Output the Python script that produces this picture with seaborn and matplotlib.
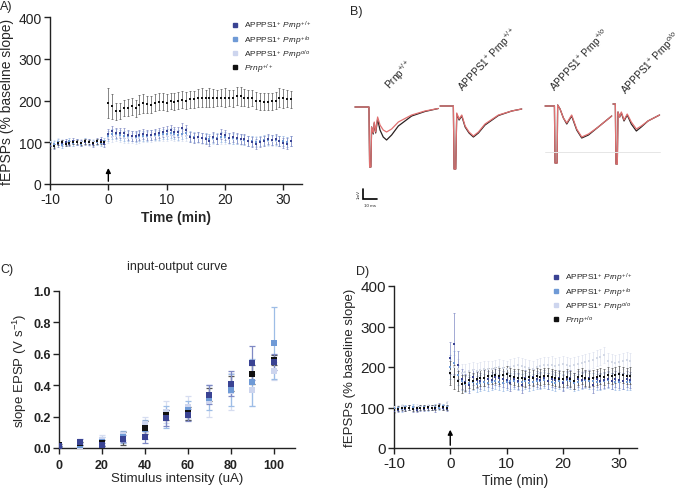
import numpy as np
import pandas as pd
import matplotlib
matplotlib.use("Agg")
import matplotlib.pyplot as plt
import seaborn as sns
from matplotlib.lines import Line2D

sns.set_style("ticks")
plt.rcParams['font.family'] = ['Liberation Sans', 'DejaVu Sans']
plt.rcParams['mathtext.fontset'] = 'custom'
plt.rcParams['mathtext.rm'] = 'Liberation Sans'
plt.rcParams['mathtext.it'] = 'Liberation Sans:italic'
plt.rcParams['mathtext.bf'] = 'Liberation Sans:bold'
plt.rcParams['axes.unicode_minus'] = False

# ---------------- data ----------------
C_NAVY, C_MED, C_LIGHT, C_BLACK = "#3a4393", "#6f9ad6", "#cdd5ee", "#111111"
E_NAVY, E_MED, E_LIGHT, E_BLACK = "#7f89c4", "#9dbde6", "#d6ddf0", "#555555"

# Panel A (time in min, 40 s sampling)
a_time_base = [-10 + i * 2 / 3 for i in range(15)]
a_time_post = [i * 2 / 3 for i in range(48)]
a_navy_base = [92, 90, 96, 98, 101, 97, 103, 100, 99, 101, 100, 96, 104, 105, 96]
a_navy_post = [120, 126, 122, 121, 121, 118, 116, 114, 117, 119, 118, 118, 120, 121, 124, 127,
               129, 124, 125, 133, 130, 112, 110, 113, 111, 108, 103, 112, 107, 120, 117, 110,
               112, 110, 108, 107, 104, 100, 95, 100, 104, 108, 106, 108, 104, 99, 97, 103]
a_med_base = [98, 96, 100, 94, 97, 102, 99, 101, 97, 103, 100, 99, 101, 98, 102]
a_med_post = [116, 120, 119, 118, 116, 115, 114, 113, 114, 116, 115, 117, 118, 118, 119, 120,
              122, 120, 118, 120, 121, 114, 112, 112, 110, 110, 108, 110, 109, 112, 112, 110,
              109, 108, 107, 106, 104, 103, 101, 103, 105, 106, 105, 106, 104, 102, 101, 103]
a_light_base = [100, 99, 102, 101, 100, 99, 98, 101, 100, 102, 99, 101, 100, 101, 99]
a_light_post = [110, 113, 114, 112, 111, 110, 110, 109, 111, 112, 112, 113, 114, 114, 115, 116,
                117, 116, 115, 116, 116, 112, 110, 110, 109, 109, 108, 108, 108, 109, 109, 108,
                107, 107, 106, 105, 104, 103, 102, 102, 103, 104, 103, 104, 103, 102, 101, 102]
a_black_base = [95, 92, 98, 100, 96, 99, 101, 100, 98, 102, 100, 99, 102, 101, 100]
a_black_post = [195, 186, 174, 175, 182, 183, 186, 181, 190, 193, 191, 190, 195, 197, 197, 195,
                199, 197, 200, 202, 200, 203, 203, 206, 207, 205, 207, 206, 206, 207, 207, 206,
                205, 211, 210, 207, 205, 206, 200, 198, 197, 197, 198, 200, 207, 205, 204, 203]
a_sem_blue_base = [7] * 15
a_sem_blue_post = [12] * 48
a_sem_black_base = [5] * 15
a_sem_black_post = [36, 30, 20, 20, 20, 20, 20, 20, 22, 22, 20, 20, 20, 20, 20, 20,
                    20, 20, 20, 20, 20, 20, 20, 22, 22, 20, 22, 22, 20, 20, 22, 20,
                    20, 22, 22, 20, 20, 20, 20, 20, 20, 20, 20, 20, 22, 22, 20, 20]

# Panel D
d_time_base = [-10 + i * 2 / 3 for i in range(15)]
d_time_post = [i * 2 / 3 for i in range(49)]
d_black_base = [94, 97, 99, 98, 100, 97, 98, 99, 100, 101, 100, 99, 103, 101, 100]
d_black_post = [185, 176, 165, 158, 160, 167, 165, 170, 172, 174, 177, 178, 180, 178, 181, 182,
                178, 176, 174, 172, 170, 176, 173, 178, 176, 178, 177, 175, 172, 171, 170, 176,
                170, 165, 176, 178, 173, 170, 172, 175, 178, 176, 180, 177, 180, 182, 181, 178, 179]
d_navy_base = [92, 95, 98, 97, 99, 96, 94, 98, 97, 99, 100, 96, 104, 99, 97]
d_navy_post = [222, 258, 205, 170, 162, 155, 175, 168, 165, 172, 170, 168, 175, 172, 170, 168,
               160, 170, 165, 155, 172, 168, 175, 170, 168, 172, 165, 170, 168, 172, 160, 170,
               172, 165, 170, 168, 170, 172, 155, 170, 165, 168, 170, 165, 170, 168, 165, 170, 168]
d_med_base = [100, 98, 96, 101, 99, 102, 97, 100, 101, 98, 99, 102, 100, 103, 101]
d_med_post = [200, 210, 180, 165, 158, 160, 162, 158, 160, 162, 160, 163, 165, 162, 160, 164,
              166, 165, 163, 162, 165, 160, 163, 165, 166, 168, 165, 163, 160, 165, 162, 168,
              165, 160, 163, 165, 168, 166, 165, 163, 162, 165, 168, 165, 163, 162, 165, 163, 162]
d_light_base = [102, 100, 103, 101, 99, 100, 102, 101, 100, 103, 101, 102, 104, 103, 110]
d_light_post = [190, 200, 195, 185, 188, 190, 192, 190, 193, 195, 196, 195, 198, 200, 198, 196,
                200, 203, 205, 202, 200, 198, 196, 200, 203, 205, 204, 206, 203, 205, 207, 205,
                203, 205, 208, 210, 212, 215, 218, 222, 225, 230, 215, 212, 210, 212, 215, 218, 215]
d_sem_base = [6] * 15
d_sem_navy_post = [40, 75, 35, 25] + [20] * 45
d_sem_post = [30, 30, 25, 22] + [20] * 45

# Panel C (input-output)
c_stim = [0, 10, 20, 30, 40, 50, 60, 70, 80, 90, 100]
c_navy = [0.01, 0.04, 0.02, 0.06, 0.07, 0.19, 0.21, 0.34, 0.41, 0.54, 0.55]
c_med = [0.01, 0.02, 0.04, 0.07, 0.12, 0.20, 0.24, 0.32, 0.37, 0.42, 0.67]
c_light = [0.01, 0.01, 0.05, 0.08, 0.15, 0.23, 0.26, 0.30, 0.36, 0.37, 0.49]
c_black = [0.02, 0.03, 0.03, 0.06, 0.13, 0.21, 0.22, 0.34, 0.41, 0.47, 0.56]
c_navy_sem = [0.005, 0.02, 0.01, 0.02, 0.04, 0.05, 0.04, 0.06, 0.08, 0.11, 0.05]
c_med_sem = [0.005, 0.02, 0.03, 0.04, 0.06, 0.07, 0.06, 0.08, 0.10, 0.15, 0.23]
c_light_sem = [0.005, 0.02, 0.03, 0.03, 0.05, 0.07, 0.07, 0.10, 0.12, 0.10, 0.06]
c_black_sem = [0.005, 0.01, 0.02, 0.04, 0.04, 0.03, 0.04, 0.04, 0.05, 0.06, 0.03]

# Panel B traces (ms, mV)
tr1_t = [0, 10, 10.5, 11.4, 11.9, 13.1, 13.8, 14.8, 16.2, 17.9, 20.2, 22.6, 26.2, 31, 40.5, 50, 59.5]
tr1_red = [0, 0, -6, -6, -2.0, -2.6, -1.5, -2.5, -1.0, -1.8, -2.3, -2.5, -2.2, -1.5, -0.8, -0.4, -0.15]
tr1_black = [0, 0, -6, -6, -2.0, -2.7, -1.6, -2.6, -1.2, -2.3, -3.0, -3.3, -2.8, -1.9, -0.9, -0.45, -0.15]
tr2_t = [0, 9.5, 10, 11.2, 11.9, 13.6, 15.5, 17.9, 20.7, 23.8, 27.4, 32.1, 41.7, 51.2, 58.3]
tr2_red = [0, 0, -6.3, -6.3, -0.7, -1.3, -0.9, -2.0, -2.6, -3.0, -2.6, -1.8, -0.9, -0.5, -0.3]
tr2_black = [0, 0, -6.3, -6.3, -0.8, -1.4, -1.0, -2.1, -2.7, -3.1, -2.7, -1.9, -0.95, -0.5, -0.3]
tr3_t = [0, 6.7, 7.1, 8.6, 9.0, 10.7, 13.1, 15.5, 19, 22.6, 26.2, 31, 38, 47.6]
tr3_red = [0, 0, -5.7, -5.7, 0.1, -0.3, -1.2, -1.7, -0.9, -2.3, -3.1, -2.8, -2.1, -1.0]
tr3_black = [0, 0, -5.7, -5.7, 0.1, -0.3, -1.2, -1.8, -1.0, -2.4, -3.2, -2.9, -2.1, -1.0]
tr4_t = [0, 1.7, 2.1, 3.1, 3.6, 4.8, 6, 7.9, 10.2, 13.1, 16.7, 20.2, 25, 33.3]
tr4_red = [0, 0, -6, -6, -0.8, -1.3, -0.8, -1.6, -1.0, -1.8, -2.5, -2.2, -1.7, -1.1]
tr4_black = [0, 0, -6, -6, -0.8, -1.3, -0.9, -1.7, -1.1, -2.0, -2.7, -2.3, -1.7, -1.1]

LEG_A = ["APPPS1$^{+}$ $\\mathit{Prnp}^{+/+}$", "APPPS1$^{+}$ $\\mathit{Prnp}^{+/o}$",
         "APPPS1$^{+}$ $\\mathit{Prnp}^{o/o}$", "$\\mathit{Prnp}^{+/+}$"]
LEG_D = ["APPPS1$^{+}$ $\\mathit{Prnp}^{+/+}$", "APPPS1$^{+}$ $\\mathit{Prnp}^{+/o}$",
         "APPPS1$^{+}$ $\\mathit{Prnp}^{o/o}$", "$\\mathit{Prnp}^{+/o}$"]
B_LABELS = ["Prnp$^{+/+}$", "APPPS1$^{+}$ Prnp$^{+/+}$", "APPPS1$^{+}$ Prnp$^{+/o}$", "APPPS1$^{+}$ Prnp$^{o/o}$"]

# ---------------- figure ----------------
W, H = 685, 489
fig = plt.figure(figsize=(W / 100, H / 100), dpi=100)


def rect(l, t, r, b):
    return [l / W, 1 - b / H, (r - l) / W, (b - t) / H]


def style_ax(ax, fs, pad=2):
    sns.despine(ax=ax)
    for s in ['left', 'bottom']:
        ax.spines[s].set_linewidth(1.0)
        ax.spines[s].set_color('#222222')
    ax.tick_params(direction='out', length=4, width=1.0, labelsize=fs, colors='#222222', pad=pad)


def time_panel(ax, series, leg_labels, leg_anchor, fs_tick, fs_lab):
    for (tb, vb, eb, tp, vp, ep, col, ecol) in series:
        t = list(tb) + list(tp)
        v = list(vb) + list(vp)
        e = list(eb) + list(ep)
        ax.errorbar(t, v, yerr=e, fmt='none', ecolor=ecol, elinewidth=0.5, capsize=0.9, capthick=0.5, zorder=2)
        df = pd.DataFrame({"t": t, "v": v})
        sns.scatterplot(data=df, x="t", y="v", ax=ax, color=col, marker='s', s=4, linewidth=0, zorder=3, legend=False)
    ax.set_xlim(-10, 33.2)
    ax.set_ylim(0, 400)
    ax.set_xticks([-10, 0, 10, 20, 30])
    ax.set_yticks([0, 100, 200, 300, 400])
    style_ax(ax, fs_tick)
    ax.set_ylabel("fEPSPs (% baseline slope)", fontsize=fs_lab, labelpad=3)
    handles = [Line2D([], [], marker='s', ls='', color=c, markersize=3) for c in (C_NAVY, C_MED, C_LIGHT, C_BLACK)]
    fig.legend(handles, leg_labels, loc='upper left', bbox_to_anchor=leg_anchor, frameon=False,
               fontsize=6, handlelength=0.6, handletextpad=0.8, labelspacing=0.1, borderpad=0)


# Panel A
axA = fig.add_axes(rect(50, 18, 302, 185))
time_panel(axA, [
    (a_time_base, a_light_base, a_sem_blue_base, a_time_post, a_light_post, a_sem_blue_post, C_LIGHT, E_LIGHT),
    (a_time_base, a_med_base, a_sem_blue_base, a_time_post, a_med_post, a_sem_blue_post, C_MED, E_MED),
    (a_time_base, a_navy_base, a_sem_blue_base, a_time_post, a_navy_post, a_sem_blue_post, C_NAVY, E_NAVY),
    (a_time_base, a_black_base, a_sem_black_base, a_time_post, a_black_post, a_sem_black_post, C_BLACK, E_BLACK),
], LEG_A, (228 / W, 1 - 16 / H), 10, 10)
axA.set_xlabel("Time (min)", fontsize=10, fontweight='bold', labelpad=3)
axA.annotate('', xy=(0, 45), xytext=(0, 0), arrowprops=dict(arrowstyle='-|>', color='black', lw=1, mutation_scale=7))

# Panel D
axD = fig.add_axes(rect(394, 287, 637, 449))
time_panel(axD, [
    (d_time_base, d_light_base, d_sem_base, d_time_post, d_light_post, d_sem_post, "#d3d9e6", "#dde2ee"),
    (d_time_base, d_med_base, d_sem_base, d_time_post, d_med_post, d_sem_post, C_MED, E_MED),
    (d_time_base, d_navy_base, d_sem_base, d_time_post, d_navy_post, d_sem_navy_post, C_NAVY, E_NAVY),
    (d_time_base, d_black_base, d_sem_base, d_time_post, d_black_post, d_sem_post, C_BLACK, E_BLACK),
], LEG_D, (549 / W, 1 - 268 / H), 11, 9.5)
axD.set_xlabel("Time (min)", fontsize=10, labelpad=2)
axD.annotate('', xy=(0, 52), xytext=(0, 0), arrowprops=dict(arrowstyle='-|>', color='black', lw=1, mutation_scale=7))

# Panel C
axC = fig.add_axes(rect(59, 292, 295, 449))
for vals, sem, col, ecol in [(c_light, c_light_sem, C_LIGHT, E_LIGHT), (c_med, c_med_sem, C_MED, E_MED),
                             (c_black, c_black_sem, C_BLACK, E_BLACK), (c_navy, c_navy_sem, C_NAVY, E_NAVY)]:
    axC.errorbar(c_stim, vals, yerr=sem, fmt='none', ecolor=ecol, elinewidth=0.9, capsize=2.5, capthick=0.9, zorder=2)
    dfc = pd.DataFrame({"x": c_stim, "y": vals})
    sns.scatterplot(data=dfc, x="x", y="y", ax=axC, color=col, marker='s', s=24, linewidth=0, zorder=3, legend=False)
axC.set_xlim(0, 110)
axC.set_ylim(0, 1.0)
axC.set_xticks([0, 20, 40, 60, 80, 100])
axC.set_yticks([0, 0.2, 0.4, 0.6, 0.8, 1.0])
axC.set_yticklabels(["0.0", "0.2", "0.4", "0.6", "0.8", "1.0"])
style_ax(axC, 9)
axC.tick_params(axis='x', pad=4)
for lab in axC.get_xticklabels() + axC.get_yticklabels():
    lab.set_fontweight('bold')
axC.set_xlabel("Stimulus intensity (uA)", fontsize=9.5, labelpad=1)
axC.set_ylabel("slope EPSP (V s$^{-1}$)", fontsize=9.5, labelpad=3)
axC.set_title("input-output curve", fontsize=9, pad=16)

# Panel B traces
axB = fig.add_axes(rect(345, 0, 685, 220))
axB.set_xlim(0, 340 / 1.4)
axB.set_ylim(-22, 0)
axB.axis('off')
offsets = [(7.1, -10.8), (67.9, -10.7), (142.9, -10.7), (191.4, -10.5)]
traces = [(tr1_t, tr1_black, tr1_red), (tr2_t, tr2_black, tr2_red), (tr3_t, tr3_black, tr3_red), (tr4_t, tr4_black, tr4_red)]
for (t, blk, red), (x0, y0) in zip(traces, offsets):
    tt = np.array(t) + x0
    sns.lineplot(x=tt, y=np.array(blk) + y0, ax=axB, color="#2a2020", lw=0.9, sort=False, estimator=None)
    sns.lineplot(x=tt, y=np.array(red) + y0, ax=axB, color="#e07070", lw=0.9, sort=False, estimator=None)
axB.plot([142.9, 225], [-15.3, -15.3], color="#e6e6e6", lw=0.7)
# scale bar
axB.plot([12.9, 12.9, 22.9], [-19, -20, -20], color='black', lw=1.2, solid_joinstyle='miter')
axB.text(11.2, -19.5, "1mV", rotation=90, fontsize=3.2, ha='right', va='center')
axB.text(17.9, -20.4, "10 ms", fontsize=3.2, ha='center', va='top')
label_pos = [(390, 90), (463, 92), (555, 92), (626, 95)]
for lab, (px, py) in zip(B_LABELS, label_pos):
    fig.text(px / W, 1 - py / H, lab, rotation=47, rotation_mode='anchor', ha='left', va='baseline', fontsize=7.3)

# panel letters
fig.text(0 / W, 1 - 1 / H, "A)", fontsize=9, va='top', ha='left')
fig.text(350 / W, 1 - 6 / H, "B)", fontsize=9, va='top', ha='left')
fig.text(0 / W, 1 - 264 / H, "C)", fontsize=9, va='top', ha='left')
fig.text(356 / W, 1 - 266 / H, "D)", fontsize=9, va='top', ha='left')

fig.savefig("out.png", dpi=100)
